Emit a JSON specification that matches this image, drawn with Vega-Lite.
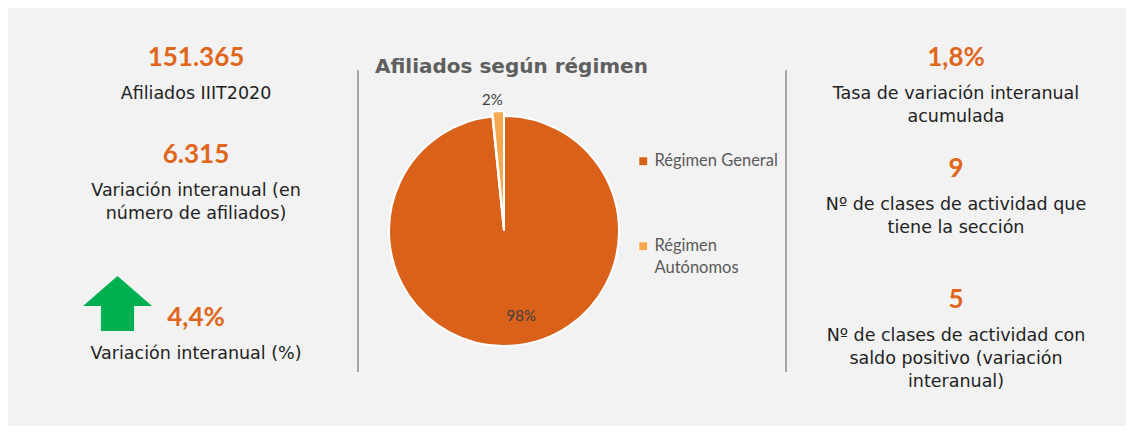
{
  "$schema": "https://vega.github.io/schema/vega-lite/v6.json",
  "background": "white",
  "padding": 8,
  "spacing": 0,
  "config": {
    "view": {"stroke": null, "fill": "#f2f2f2"},
    "font": "DejaVu Sans"
  },
  "datasets": {
    "kpi_izq": [
      {"orden": 1, "valor": "151.365", "etiqueta": "Afiliados IIIT2020"},
      {"orden": 2, "valor": "6.315", "etiqueta": "Variación interanual (en\nnúmero de afiliados)"},
      {"orden": 3, "valor": "4,4%", "etiqueta": "Variación interanual (%)", "tendencia": "sube"}
    ],
    "kpi_der": [
      {"orden": 1, "valor": "1,8%", "etiqueta": "Tasa de variación interanual\nacumulada"},
      {"orden": 2, "valor": "9", "etiqueta": "Nº de clases de actividad que\ntiene la sección"},
      {"orden": 3, "valor": "5", "etiqueta": "Nº de clases de actividad con\nsaldo positivo (variación\ninteranual)"}
    ],
    "regimen": [
      {"regimen": "Régimen General", "cuota": 0.984},
      {"regimen": "Régimen Autónomos", "cuota": 0.016}
    ]
  },
  "hconcat": [
    {
      "width": 349,
      "height": 418,
      "data": {"name": "kpi_izq"},
      "encoding": {
        "y": {"field": "orden", "type": "quantitative", "axis": null,
              "scale": {"domain": [1, 2, 3], "range": [50, 147, 310], "nice": false, "zero": false}}
      },
      "layer": [
        {
          "mark": {"type": "text", "x": 188, "baseline": "middle", "align": "center", "font": "Lato", "fontWeight": "bold", "fontSize": 26, "color": "#e0661c"},
          "encoding": {"text": {"field": "valor", "type": "nominal"}}
        },
        {
          "mark": {"type": "text", "x": 188, "dy": 41, "baseline": "alphabetic", "align": "center", "font": "DejaVu Sans", "fontSize": 17.5, "color": "#222222", "lineBreak": "\n", "lineHeight": 23},
          "encoding": {"text": {"field": "etiqueta", "type": "nominal"}}
        },
        {
          "transform": [{"filter": "datum.tendencia === 'sube'"}],
          "mark": {"type": "point", "filled": true, "x": 109.5, "yOffset": -14.5, "size": 4761, "color": "#00b050", "opacity": 1, "strokeWidth": 0},
          "encoding": {
            "shape": {"field": "tendencia", "type": "nominal", "legend": null,
                      "scale": {"domain": ["sube"], "range": ["M0,-0.8L1,0.07L0.48,0.07L0.48,0.8L-0.48,0.8L-0.48,0.07L-1,0.07Z"]}}
          }
        }
      ]
    },
    {
      "width": 430,
      "height": 418,
      "view": {"fill": "#f2f2f2", "stroke": null},
      "data": {"name": "regimen"},
      "title": {"text": "Afiliados según régimen", "anchor": "start", "frame": "group", "orient": "top", "offset": -79, "baseline": "middle", "dx": 18, "font": "DejaVu Sans", "fontSize": 20, "fontWeight": "bold", "color": "#5f5f5f"},
      "layer": [
        {
          "mark": {"type": "arc", "x": 147, "y": 223, "outerRadius": 115, "stroke": "white", "strokeWidth": 2},
          "encoding": {
            "theta": {"field": "cuota", "type": "quantitative", "stack": true},
            "order": {"field": "cuota", "sort": "descending"},
            "color": {"field": "regimen", "type": "nominal",
                      "scale": {"domain": ["Régimen General", "Régimen Autónomos"], "range": ["#d9611a", "#f5a84f"]},
                      "legend": {"orient": "none", "legendX": 627, "legendY": 145, "title": null, "symbolType": "square", "symbolSize": 81,
                                 "symbolStrokeColor": "white", "symbolStrokeWidth": 1, "labelFont": "Lato", "labelFontSize": 16.5, "labelColor": "#595959",
                                 "rowPadding": 68, "labelOffset": 3,
                                 "encode": {"labels": {"update": {"lineHeight": {"value": 22}}}},
                                 "labelExpr": "datum.label === 'Régimen Autónomos' ? ['Régimen', 'Autónomos'] : datum.label"}}
          }
        },
        {
          "mark": {"type": "arc", "x": 147, "y": 223, "yOffset": -5, "outerRadius": 115, "strokeWidth": 2},
          "encoding": {
            "theta": {"field": "cuota", "type": "quantitative", "stack": true},
            "order": {"field": "cuota", "sort": "descending"},
            "detail": {"field": "regimen", "type": "nominal"},
            "color": {"condition": {"test": "datum.regimen === 'Régimen Autónomos'", "value": "#f5a84f"}, "value": "transparent"},
            "stroke": {"condition": {"test": "datum.regimen === 'Régimen Autónomos'", "value": "white"}, "value": "transparent"}
          }
        },
        {
          "mark": {"type": "text", "x": 147, "y": 223, "radius": 85, "dx": 13, "font": "Lato", "fontSize": 15, "color": "#404040"},
          "encoding": {
            "theta": {"field": "cuota", "type": "quantitative", "stack": true},
            "order": {"field": "cuota", "sort": "descending"},
            "detail": {"field": "regimen", "type": "nominal"},
            "text": {"condition": {"test": "datum.regimen === 'Régimen General'", "field": "cuota", "type": "quantitative", "format": ".0%"}, "value": ""}
          }
        },
        {
          "mark": {"type": "text", "x": 147, "y": 223, "radius": 131, "dx": -5, "font": "Lato", "fontSize": 15, "color": "#404040"},
          "encoding": {
            "theta": {"field": "cuota", "type": "quantitative", "stack": true},
            "order": {"field": "cuota", "sort": "descending"},
            "detail": {"field": "regimen", "type": "nominal"},
            "text": {"condition": {"test": "datum.regimen === 'Régimen Autónomos'", "field": "cuota", "type": "quantitative", "format": ".0%"}, "value": ""}
          }
        },
        {
          "mark": {"type": "rule", "color": "#a6a6a6", "strokeWidth": 2},
          "encoding": {"x": {"value": 1}, "y": {"value": 62}, "y2": {"value": 364}}
        },
        {
          "mark": {"type": "rule", "color": "#a6a6a6", "strokeWidth": 2},
          "encoding": {"x": {"value": 429}, "y": {"value": 62}, "y2": {"value": 364}}
        }
      ]
    },
    {
      "width": 339,
      "height": 418,
      "data": {"name": "kpi_der"},
      "encoding": {
        "y": {"field": "orden", "type": "quantitative", "axis": null,
              "scale": {"domain": [1, 2, 3], "range": [50, 161, 292], "nice": false, "zero": false}}
      },
      "layer": [
        {
          "mark": {"type": "text", "x": 169, "baseline": "middle", "align": "center", "font": "Lato", "fontWeight": "bold", "fontSize": 26, "color": "#e0661c"},
          "encoding": {"text": {"field": "valor", "type": "nominal"}}
        },
        {
          "mark": {"type": "text", "x": 169, "dy": 41, "baseline": "alphabetic", "align": "center", "font": "DejaVu Sans", "fontSize": 17.5, "color": "#222222", "lineBreak": "\n", "lineHeight": 23},
          "encoding": {"text": {"field": "etiqueta", "type": "nominal"}}
        }
      ]
    }
  ]
}
